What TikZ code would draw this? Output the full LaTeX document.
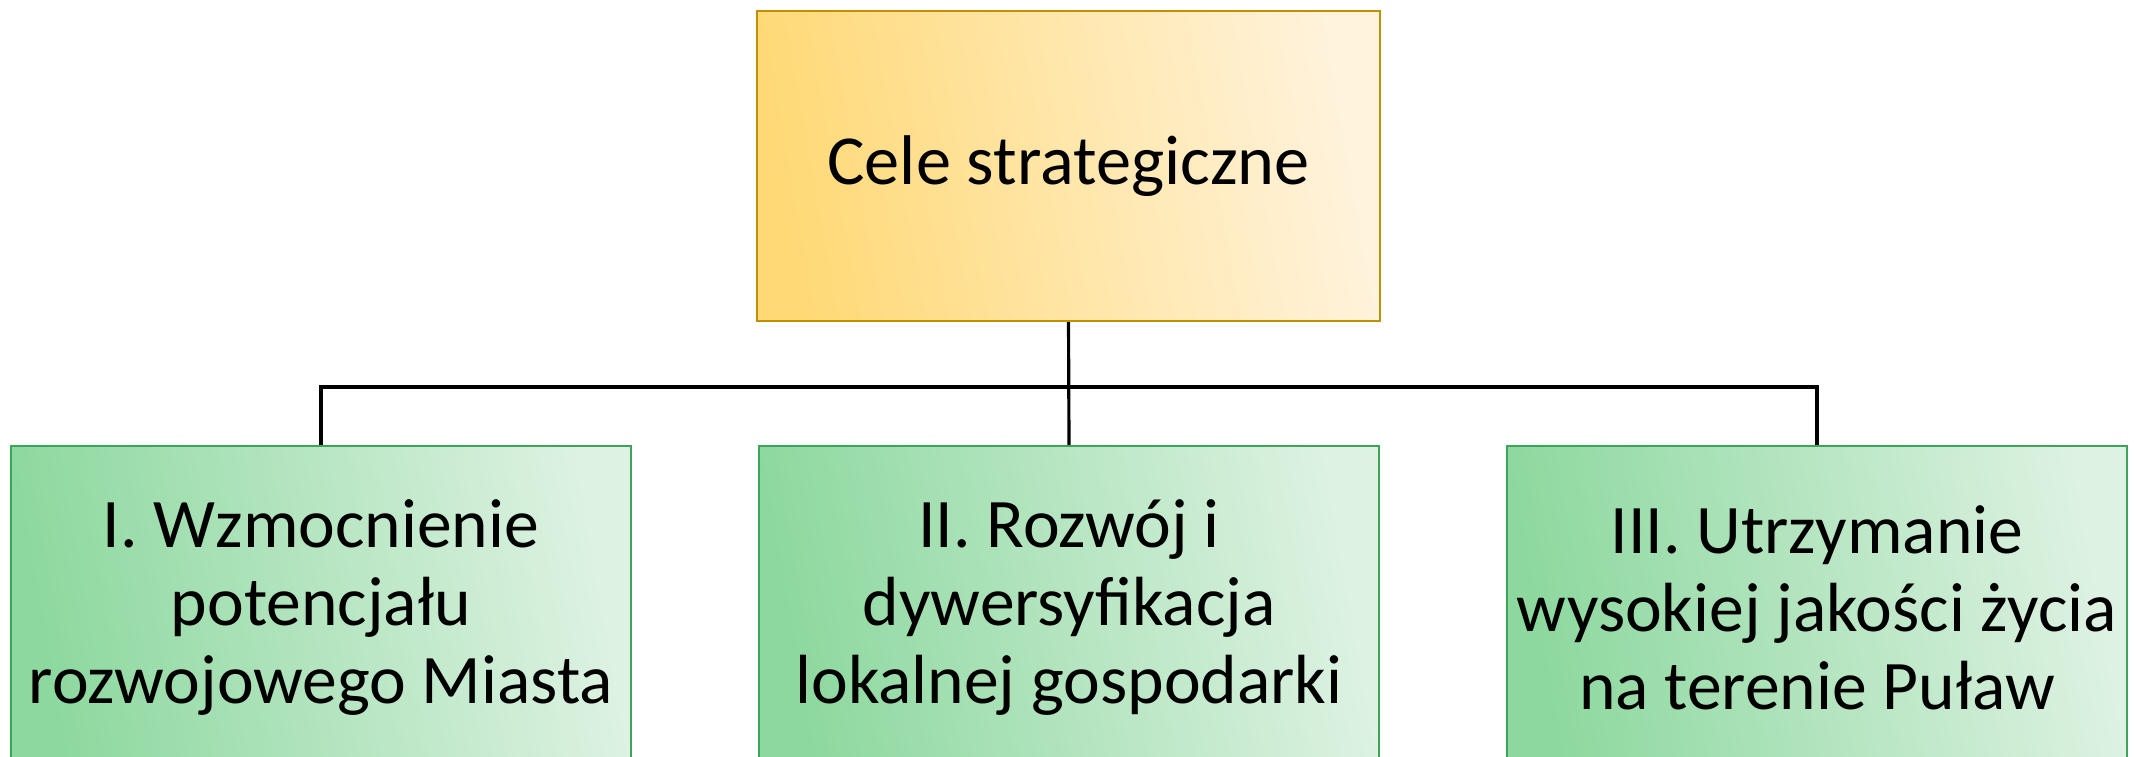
\documentclass[tikz,border=0pt]{standalone}
\usepackage{fontspec}
\setmainfont{Carlito}
\definecolor{goldlo}{RGB}{255,217,118}
\definecolor{goldhi}{RGB}{255,243,221}
\definecolor{goldedge}{RGB}{191,144,0}
\definecolor{greenlo}{RGB}{140,216,158}
\definecolor{greenhi}{RGB}{222,242,227}
\definecolor{greenedge}{RGB}{60,165,90}
\begin{document}
\begin{tikzpicture}[
  topbox/.style={draw=goldedge, line width=0.7pt, left color=goldlo, right color=goldhi,
    shading angle=100, minimum width=6.23cm, minimum height=3.10cm, inner sep=0pt,
    font=\fontsize{20}{22}\selectfont},
  goalbox/.style={draw=greenedge, line width=0.7pt, left color=greenlo, right color=greenhi,
    shading angle=100, minimum width=6.20cm, minimum height=3.24cm, inner sep=0pt,
    align=center, font=\fontsize{19.8}{22.2}\selectfont},
  link/.style={line width=0.9pt}
]
\useasboundingbox (0,0) rectangle (21.34,7.57);

\node[topbox] (cele) at (10.685,5.91) {Cele strategiczne};

\node[goalbox] (cel1) at (3.21,1.49) {I. Wzmocnienie\\potencjału\\rozwojowego Miasta};
\node[goalbox] (cel2) at (10.69,1.49) {II. Rozwój i\\dywersyfikacja\\lokalnej gospodarki};
\node[goalbox] (cel3) at (18.17,1.49) {III. Utrzymanie\\wysokiej jakości życia\\na terenie Puław};

% tree connectors
\coordinate (bar) at (10.69,3.70);
\draw[link] (cele.south) -- (cel2.north);
\draw[link] (cel1.north) |- (bar) -| (cel3.north);
\end{tikzpicture}
\end{document}
